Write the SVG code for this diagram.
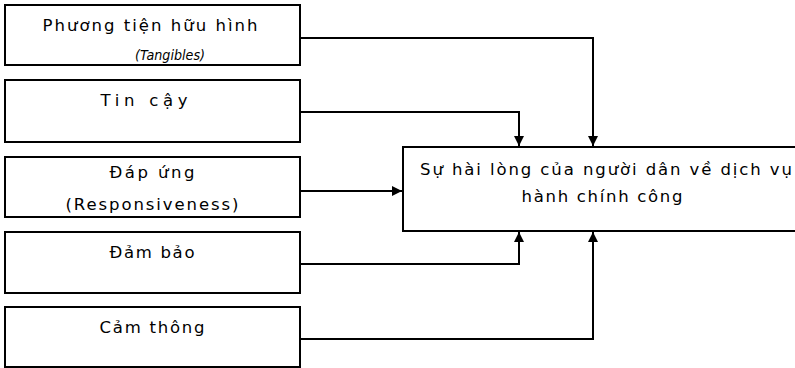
<svg xmlns="http://www.w3.org/2000/svg" width="795" height="368" viewBox="0 0 795 368">
  <style>
    .box { fill: #ffffff; stroke: #000000; stroke-width: 2; }
    .lbl { font-family: "DejaVu Sans", "Liberation Sans", sans-serif; font-size: 16.5px; fill: #000000; text-anchor: middle; }
    .it { font-style: italic; font-size: 14px; }
    .wire { fill: none; stroke: #000000; stroke-width: 2; }
  </style>
  <defs>
    <marker id="arrow" viewBox="0 0 10 10" refX="10" refY="5" markerWidth="5" markerHeight="5" orient="auto" markerUnits="strokeWidth">
      <path d="M0,0 L10,5 L0,10 Z" fill="#000000"/>
    </marker>
  </defs>
  <rect width="795" height="368" fill="#ffffff"/>

  <g id="tangibles">
    <rect class="box" x="5" y="5" width="295" height="60"/>
    <text class="lbl" x="150" y="31" textLength="215" lengthAdjust="spacing">Phương tiện hữu hình</text>
    <text class="lbl it" x="170" y="60" textLength="70" lengthAdjust="spacingAndGlyphs">(Tangibles)</text>
  </g>

  <g id="reliability">
    <rect class="box" x="5" y="80" width="295" height="62"/>
    <text class="lbl" x="144" y="106" textLength="87" lengthAdjust="spacing">Tin cậy</text>
  </g>

  <g id="responsiveness">
    <rect class="box" x="5" y="157" width="295" height="60"/>
    <text class="lbl" x="152" y="178" textLength="85" lengthAdjust="spacing">Đáp ứng</text>
    <text class="lbl" x="152" y="210" textLength="173" lengthAdjust="spacing">(Responsiveness)</text>
  </g>

  <g id="assurance">
    <rect class="box" x="5" y="232" width="295" height="61"/>
    <text class="lbl" x="152" y="258" textLength="85" lengthAdjust="spacing">Đảm bảo</text>
  </g>

  <g id="empathy">
    <rect class="box" x="5" y="307" width="295" height="60"/>
    <text class="lbl" x="152" y="333" textLength="105" lengthAdjust="spacing">Cảm thông</text>
  </g>

  <g id="satisfaction">
    <path class="box" d="M796,147 H403 V231 H796"/>
    <text class="lbl" x="606" y="175" textLength="372" lengthAdjust="spacing">Sự hài lòng của người dân về dịch vụ</text>
    <text class="lbl" x="602" y="202" textLength="161" lengthAdjust="spacing">hành chính công</text>
  </g>

  <g id="connectors">
    <path class="wire" d="M300,38 H593 V146" marker-end="url(#arrow)"/>
    <path class="wire" d="M300,112 H519 V146" marker-end="url(#arrow)"/>
    <path class="wire" d="M300,191 H402" marker-end="url(#arrow)"/>
    <path class="wire" d="M300,264 H519 V232" marker-end="url(#arrow)"/>
    <path class="wire" d="M300,339 H593 V232" marker-end="url(#arrow)"/>
  </g>
</svg>
